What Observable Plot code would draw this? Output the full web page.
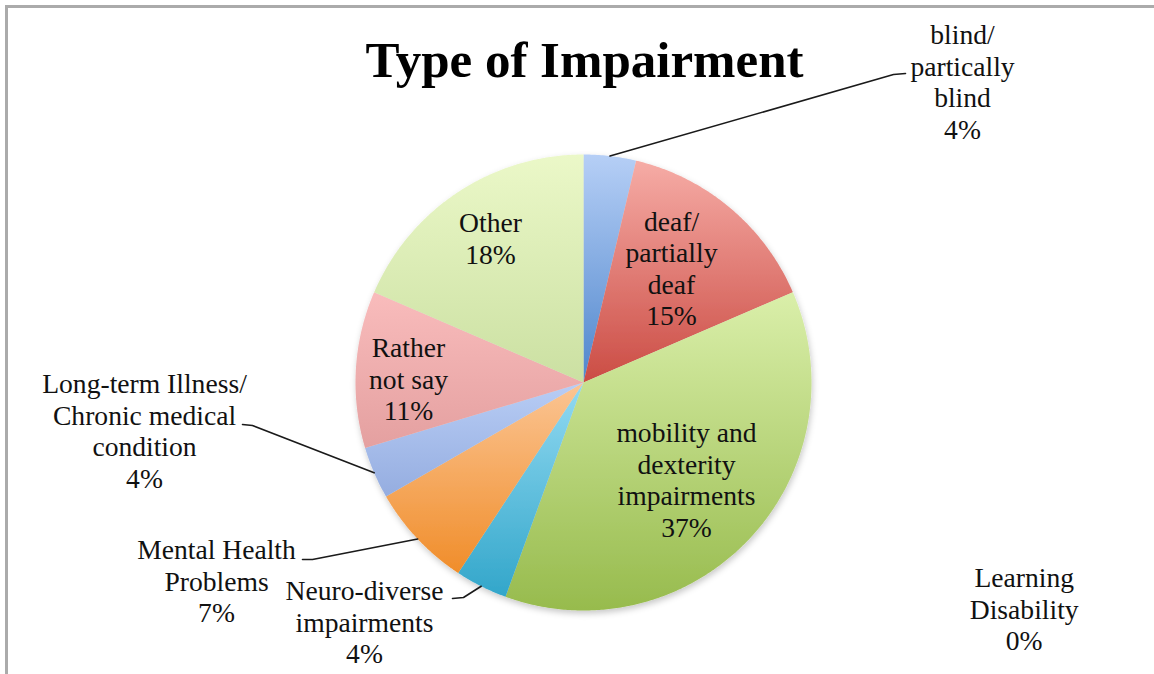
<!DOCTYPE html>
<html>
<head>
<meta charset="utf-8">
<script src="https://cdn.jsdelivr.net/npm/d3@7"></script>
<script src="https://cdn.jsdelivr.net/npm/@observablehq/plot@0.6"></script>
<style>
  html, body { margin: 0; padding: 0; background: #fff; }
  #wrap { position: relative; width: 1154px; height: 674px; overflow: hidden; }
  #wrap svg { position: absolute; left: 0; top: 0; }
  #border { position: absolute; left: 5px; top: 5px; right: -10px; bottom: -10px;
            border-top: 3px solid #ababab; border-left: 3px solid #ababab; pointer-events: none; }
</style>
</head>
<body>
<div id="wrap"><div id="chart"></div><div id="border"></div></div>
<script>
// ---- data ----
const titleText = ["Type of Impairment"];
const categories = [
  "blind/\npartically\nblind",
  "deaf/\npartially\ndeaf",
  "mobility and\ndexterity\nimpairments",
  "Learning\nDisability",
  "Neuro-diverse\nimpairments",
  "Mental Health\nProblems",
  "Long-term Illness/\nChronic medical\ncondition",
  "Rather\nnot say",
  "Other"
];
const counts = [1, 4, 10, 0, 1, 2, 1, 3, 5];
const percentLabels = ["4%", "15%", "37%", "0%", "4%", "7%", "4%", "11%", "18%"];

// ---- styling / layout (not data) ----
const gradTop =    ["#b6cff6", "#f6aca6", "#daefaa", "#cccccc", "#93daf2", "#fbc594", "#b8cdf5", "#f9bcbc", "#ebf8c8"];
const gradBottom = ["#4f86cc", "#cb4c44", "#97bb4d", "#999999", "#32a6ca", "#f08d2a", "#95ade0", "#e4a0a0", "#cbe0a2"];
const W = 1154, H = 674, CX = 583, CY = 382, R = 228;
// label block centres relative to pie centre (px, y up)
const labelOffsets = [[379, 301], [88, 114.4], [103, -97], [440.7, -226], [-219, -239], [-367, -198], [-439, -48], [-175, 4], [-93, 144.6]];
// leader line elbow / end points relative to pie centre, keyed by slice index
const leaderPoints = {0: [[310, 308], [322, 309]], 4: [[-120, -215], [-131, -216]], 5: [[-271, -177], [-281, -177]], 6: [[-331, -43], [-341, -42]]};

const rows = categories.map((name, i) => ({i, name, count: counts[i], pct: percentLabels[i]}));
const arcs = d3.pie().sort(null).value(d => d.count)(rows);

// slice outlines computed from the pie angles
const slicePts = [];
for (const a of arcs) {
  if (a.endAngle - a.startAngle <= 0) continue;
  const id = a.data.i;
  slicePts.push({k: id, x: 0, y: 0});
  const n = Math.max(2, Math.ceil((a.endAngle - a.startAngle) / (Math.PI / 360)));
  for (let j = 0; j <= n; ++j) {
    const t = a.startAngle + (a.endAngle - a.startAngle) * j / n;
    slicePts.push({k: id, x: R * Math.sin(t), y: R * Math.cos(t)});
  }
}
slicePts.forEach(p => p.fill = `url(#grad-${p.k})`);

// leader lines start at each slice's mid-arc
const leaderPts = [];
for (const a of arcs) {
  const lp = leaderPoints[a.data.i];
  if (!lp) continue;
  const m = (a.startAngle + a.endAngle) / 2;
  leaderPts.push({k: a.data.i, x: R * Math.sin(m), y: R * Math.cos(m)});
  for (const [x, y] of lp) leaderPts.push({k: a.data.i, x, y});
}

const labels = rows.map((d, i) => ({
  text: d.name + "\n" + d.pct,
  x: labelOffsets[i][0],
  y: labelOffsets[i][1]
}));

const plot = Plot.plot({
  width: W,
  height: H,
  margin: 0,
  x: {type: "linear", domain: [-CX, W - CX], range: [0, W], axis: null},
  y: {type: "linear", domain: [CY, CY - H], range: [0, H], axis: null},
  color: {type: "identity"},
  marks: [
    Plot.line(slicePts, {x: "x", y: "y", z: "k", fill: "fill", stroke: "none", curve: "linear-closed"}),
    Plot.line(leaderPts, {x: "x", y: "y", z: "k", stroke: "#1a1a1a", strokeWidth: 1.6, curve: "linear"}),
    Plot.text(labels, {x: "x", y: "y", text: "text", fontFamily: "Liberation Serif", fontSize: 27.6,
                       lineHeight: 1.14, lineAnchor: "middle", textAnchor: "middle", fill: "#111"}),
    Plot.text(titleText, {x: () => 1, y: () => CY - 76, text: d => d, fontFamily: "Liberation Serif",
                          fontWeight: "bold", fontSize: 51, lineAnchor: "bottom", textAnchor: "middle", fill: "#000"})
  ]
});

// gradient definitions for the slices
const svg = d3.select(plot);
const defs = svg.insert("defs", ":first-child");
rows.forEach((d, i) => {
  const g = defs.append("linearGradient").attr("id", `grad-${i}`)
    .attr("x1", 0).attr("y1", 0).attr("x2", 0).attr("y2", 1);
  g.append("stop").attr("offset", "0%").attr("stop-color", gradTop[i]);
  g.append("stop").attr("offset", "100%").attr("stop-color", gradBottom[i]);
});
const f = defs.append("filter").attr("id", "pieShadow").attr("x", "-10%").attr("y", "-10%").attr("width", "120%").attr("height", "120%");
f.append("feDropShadow").attr("dx", 1).attr("dy", 3).attr("stdDeviation", 3).attr("flood-color", "#000").attr("flood-opacity", 0.22);
svg.select('g[aria-label="line"]').attr("filter", "url(#pieShadow)");

document.getElementById("chart").appendChild(plot);
</script>
</body>
</html>
